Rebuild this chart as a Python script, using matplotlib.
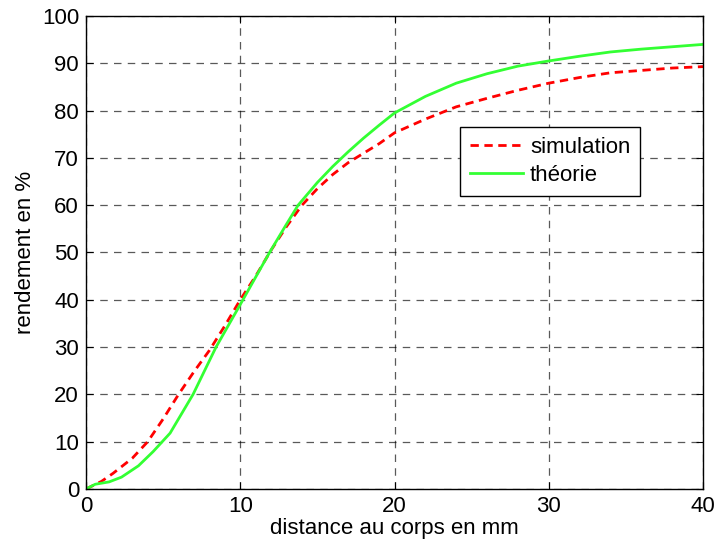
import matplotlib
matplotlib.use('Agg')
import matplotlib.pyplot as plt

# simulation curve
sim_x = [0, 1, 1.75, 3, 4, 5, 6, 7, 8, 9, 10, 11, 12, 13, 14, 15, 16, 17, 18,
         19, 20, 22, 24, 26, 28, 30, 32, 34, 36, 38, 40]
sim_y = [0, 1.6, 3.3, 6.5, 10, 14.8, 20, 24.8, 29.3, 34.5, 40, 45, 50.5, 55.5,
         60, 63.5, 66.5, 69, 71, 73, 75.3, 78.2, 80.8, 82.6, 84.3, 85.8, 87,
         88, 88.5, 89, 89.3]

# theory curve
th_x = [0, 0.6, 1.5, 2.3, 3.4, 4.35, 5.45, 6.94, 8.43, 10, 11, 11.9, 13, 13.75,
        15, 16, 17, 18, 19, 20, 22, 24, 26, 28, 30, 32, 34, 36, 38, 40]
th_y = [0, 1, 1.5, 2.5, 4.9, 7.9, 11.8, 20, 30, 39, 44.8, 50, 56, 60, 64.8, 68.2,
        71.3, 74.2, 76.9, 79.5, 83, 85.8, 87.8, 89.4, 90.5, 91.5, 92.4, 93, 93.5, 94]

plt.rcParams['font.family'] = ['Liberation Sans', 'DejaVu Sans']

fig = plt.figure(figsize=(7.15, 5.45), dpi=100)
ax = fig.add_axes([0.1203, 0.1028, 0.8629, 0.8678])

ax.plot(sim_x, sim_y, color='#ff0000', linestyle=(0, (3, 2)), linewidth=2, label='simulation')
ax.plot(th_x, th_y, color='#33ff33', linestyle='-', linewidth=2, label='théorie')

ax.set_xlim(0, 40)
ax.set_ylim(0, 100)
ax.set_xticks(range(0, 41, 10))
ax.set_yticks(range(0, 101, 10))
ax.tick_params(direction='in', labelsize=16, length=5, top=True, right=True, pad=5)
ax.grid(True, color='black', linestyle=(0, (6, 5)), linewidth=0.9, alpha=0.65)
for s in ax.spines.values():
    s.set_linewidth(1.0)

ax.set_xlabel('distance au corps en mm', fontsize=16, labelpad=1)
ax.set_ylabel('rendement en %', fontsize=16, labelpad=4)

leg = ax.legend(loc='upper left', bbox_to_anchor=(0.606, 0.765), fontsize=16,
                fancybox=False, framealpha=1, edgecolor='black',
                handlelength=2.4, handletextpad=0.3, borderpad=0.45,
                labelspacing=0.3, borderaxespad=0)
leg.get_frame().set_linewidth(1.0)

fig.savefig('out.png', dpi=100)
